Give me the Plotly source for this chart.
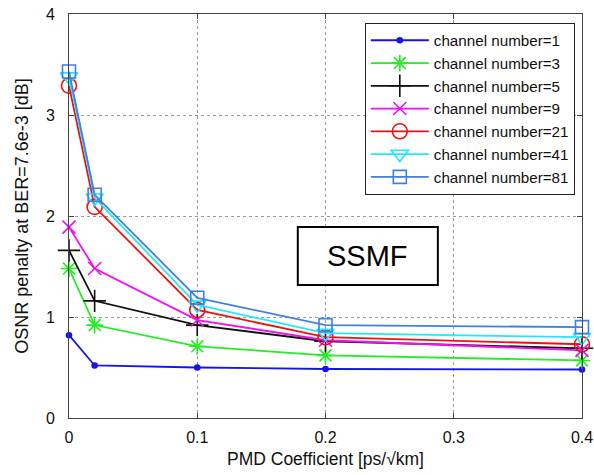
import plotly.graph_objects as go

pmd = [0, 0.02, 0.1, 0.2, 0.4]
names = ["channel number=1", "channel number=3", "channel number=5", "channel number=9",
         "channel number=21", "channel number=41", "channel number=81"]
ch1 = [0.82, 0.52, 0.50, 0.485, 0.48]
ch3 = [1.48, 0.92, 0.71, 0.62, 0.57]
ch5 = [1.66, 1.16, 0.92, 0.76, 0.69]
ch9 = [1.89, 1.48, 0.97, 0.77, 0.67]
ch21 = [3.29, 2.09, 1.07, 0.80, 0.73]
ch41 = [3.38, 2.18, 1.12, 0.84, 0.80]
ch81 = [3.43, 2.21, 1.19, 0.92, 0.90]
series = [ch1, ch3, ch5, ch9, ch21, ch41, ch81]
colors = ["#1414f0", "#22ee22", "#111111", "#f010f0", "#f01010", "#20e8ff", "#3f7fe6"]
symbols = ["circle", "asterisk-open", "cross-thin-open", "x-thin-open", "circle-open",
           "triangle-down-open", "square-open"]
sizes = [5, 14, 16, 13, 15, 15, 13]

FONT = "Arial, Liberation Sans, sans-serif"

fig = go.Figure()
for nm, ys, c, s, sz in zip(names, series, colors, symbols, sizes):
    fig.add_trace(go.Scatter(
        x=pmd, y=ys, name=nm, mode="lines+markers", cliponaxis=False,
        line=dict(color=c, width=1.8),
        marker=dict(symbol=s, size=sz, color=c, line=dict(color=c, width=1.6)),
    ))

axis_common = dict(
    showline=True, mirror="ticks", linecolor="#444", linewidth=1,
    ticks="inside", ticklen=5, tickcolor="#444",
    showgrid=True, gridcolor="#999", griddash="dot", gridwidth=1,
    zeroline=False, tickfont=dict(size=16, color="#111", family=FONT),
    automargin=False,
)

fig.update_xaxes(range=[0, 0.4], tickvals=[0, 0.1, 0.2, 0.3, 0.4],
                 ticktext=["0", "0.1", "0.2", "0.3", "0.4"],
                 ticklabelstandoff=5,
                 title=dict(text="PMD Coefficient [ps/\u221akm]", font=dict(size=17.5, color="#111", family=FONT), standoff=7),
                 **axis_common)
fig.update_yaxes(range=[0, 4], tickvals=[0, 1, 2, 3, 4],
                 title=dict(text="OSNR penalty at BER=7.6e-3 [dB]", font=dict(size=18, color="#111", family=FONT), standoff=12),
                 ticklabelstandoff=10,
                 **axis_common)

fig.add_shape(type="rect", xref="paper", yref="paper", x0=0.446, x1=0.719, y0=0.329, y1=0.473,
              line=dict(color="black", width=2), fillcolor="white", layer="above")
fig.add_annotation(xref="paper", yref="paper", x=0.5825, y=0.401, text="SSMF", showarrow=False,
                   font=dict(size=29, color="black", family=FONT))

fig.update_layout(
    width=594, height=475,
    margin=dict(l=69, r=12, t=14, b=57),
    paper_bgcolor="white", plot_bgcolor="white",
    font=dict(family=FONT, color="#111"),
    legend=dict(x=0.986, y=0.978, xanchor="right", yanchor="top",
                bordercolor="#222", borderwidth=1, bgcolor="white",
                font=dict(size=15.2, family=FONT, color="#111"),
                itemwidth=58, tracegroupgap=0),
    showlegend=True,
)

fig.write_html("out.html")
